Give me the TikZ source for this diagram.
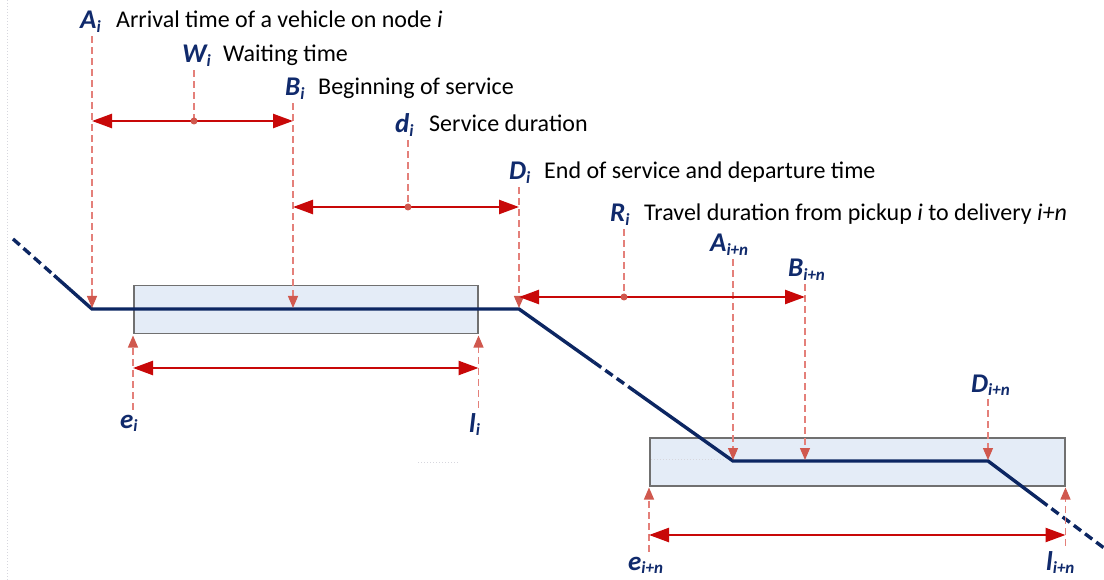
\documentclass[tikz,border=0pt]{standalone}
\usepackage{fontspec}
\setmainfont{Carlito}
\usetikzlibrary{arrows.meta,calc}
\definecolor{navy}{RGB}{12,38,98}
\definecolor{labc}{RGB}{16,42,108}
\definecolor{arrc}{RGB}{200,8,8}
\definecolor{dshc}{RGB}{228,128,122}
\definecolor{dshtip}{RGB}{208,88,78}
\definecolor{boxfill}{RGB}{228,236,247}
\definecolor{boxline}{RGB}{112,112,112}
\definecolor{faint}{RGB}{215,215,222}
\newcommand{\lbl}[2]{{\color{labc}\fontsize{27}{27}\selectfont\bfseries\itshape #1\raisebox{-0.3ex}{\fontsize{17}{17}\selectfont #2}}}
\begin{document}
\begin{tikzpicture}[x=1pt,y=-1pt,
  labnode/.style={anchor=base west, inner sep=0pt},
  txtnode/.style={anchor=base west, inner sep=0pt, font=\fontsize{24}{24}\selectfont},
  guide/.style={draw=dshc, dash pattern=on 7pt off 4pt, line width=1.2pt},
  guidetip/.style={guide, -{Triangle[length=12pt,width=10pt,color=dshtip,fill=dshtip]}, shorten >=1pt},
  span/.style={draw=arrc, line width=2.4pt, {Triangle[length=20pt,width=14pt]}-{Triangle[length=20pt,width=14pt]}},
  middot/.style={circle, fill=dshtip, inner sep=0pt, minimum size=7pt},
  route/.style={draw=navy, line width=3.4pt},
  routedash/.style={route, dash pattern=on 9pt off 5pt},
  window/.style={draw=boxline, fill=boxfill, line width=1.5pt, inner sep=0pt, anchor=north west},
  faintline/.style={draw=faint, line width=0.8pt, dash pattern=on 1pt off 2pt}
]
\useasboundingbox[fill=white] (0,0) rectangle (1104,580);

% faint artifacts
\coordinate (fa1) at (7,0);
\coordinate (fa2) at (7,580);
\draw[faintline] (fa1) -- (fa2);
\coordinate (fb1) at (418,462);
\coordinate (fb2) at (459,462);
\draw[faintline] (fb1) -- (fb2);

% time windows
\node[window, minimum width=344pt, minimum height=48pt] (w1) at (133,285) {};
\node[window, minimum width=415pt, minimum height=48pt] (w2) at (649,437) {};
\coordinate (fc1) at (651,459);
\coordinate (fc2) at (726,459);
\draw[faintline] (fc1) -- (fc2);

% route
\coordinate (r0) at (13,239);
\coordinate (r2) at (92,309);
\coordinate (r3) at (519,309);
\coordinate (r4) at (733,461);
\coordinate (r5) at (988,461);
\coordinate (r6) at (1104,548);
\coordinate (r1) at ($(r0)!0.52!(r2)$);
\coordinate (m1) at ($(r3)!0.35!(r4)$);
\coordinate (m2) at ($(r3)!0.54!(r4)$);
\coordinate (m3) at ($(r5)!0.45!(r6)$);
\draw[routedash] (r0) -- (r1);
\draw[route, line join=miter] (r1) -- (r2) -- (r3) -- (m1);
\draw[routedash] (m1) -- (m2);
\draw[route, line join=miter] (m2) -- (r4) -- (r5) -- (m3);
\draw[routedash] (m3) -- (r6);

% top labels
\node[labnode] (lA) at (80,29) {\lbl{A}{i}};
\node[txtnode] (tA) at (116,28) {Arrival time of a vehicle on node \textit{i}};
\node[labnode] (lW) at (182,63) {\lbl{W}{i}};
\node[txtnode] (tW) at (223,62) {Waiting time};
\node[labnode] (lB) at (285,96) {\lbl{B}{i}};
\node[txtnode] (tB) at (318,95) {Beginning of service};
\node[labnode] (ld) at (395,133) {\lbl{d}{i}};
\node[txtnode] (td) at (429,132) {Service duration};
\node[labnode] (lD) at (509,180) {\lbl{D}{i}};
\node[txtnode] (tD) at (544,179) {End of service and departure time};
\node[labnode] (lR) at (610,222) {\lbl{R}{i}};
\node[txtnode] (tR) at (644,221) {Travel duration from pickup \textit{i} to delivery \textit{i+n}};
\node[labnode] (lA2) at (710,252) {\lbl{A}{i+n}};
\node[labnode] (lB2) at (788,277) {\lbl{B}{i+n}};
\node[labnode] (lD2) at (971,392) {\lbl{D}{i+n}};

% bottom labels
\node[labnode] (le1) at (120,428) {\lbl{e}{i}};
\node[labnode] (ll1) at (469,432) {\lbl{l}{i}};
\node[labnode] (le2) at (628,570) {\lbl{e}{i+n}};
\node[labnode] (ll2) at (1046,570) {\lbl{l}{i+n}};

% guide points
\coordinate (gA) at (92,309);
\coordinate (gW) at (194,121);
\coordinate (gB) at (293,309);
\coordinate (gd) at (408,207);
\coordinate (gD) at (519,309);
\coordinate (gR) at (624,297);
\coordinate (gA2) at (733,461);
\coordinate (gB2) at (805,461);
\coordinate (gD2) at (988,461);

\draw[guidetip] ([yshift=-3pt]lA.south -| gA) -- (gA);
\draw[guide] ([yshift=-3pt]lW.south -| gW) -- (gW);
\draw[guidetip] ([yshift=-3pt]lB.south -| gB) -- (gB);
\draw[guide] ([yshift=-3pt]ld.south -| gd) -- (gd);
\draw[guidetip] ([yshift=-3pt]lD.south -| gD) -- (gD);
\draw[guide] ([yshift=-3pt]lR.south -| gR) -- (gR);
\draw[guidetip] ([yshift=-3pt]lA2.south -| gA2) -- (gA2);
\draw[guidetip] ([yshift=-3pt]lB2.south -| gB2) -- (gB2);
\draw[guidetip] ([yshift=-3pt]lD2.south -| gD2) -- (gD2);

\draw[guidetip] ([yshift=5pt]le1.north -| w1.south west) -- (w1.south west);
\draw[guidetip] ([yshift=5pt]ll1.north -| w1.south east) -- (w1.south east);
\draw[guidetip] ([yshift=5pt]le2.north -| w2.south west) -- (w2.south west);
\draw[guidetip] ([yshift=5pt]ll2.north -| w2.south east) -- (w2.south east);

% span arrows
\draw[span] (gA |- gW) -- (gB |- gW);
\draw[span] (gB |- gd) -- (gD |- gd);
\draw[span] (gD |- gR) -- (gB2 |- gR);
\coordinate (s1) at (0,368);
\coordinate (s2) at (0,535);
\draw[span] (w1.south west |- s1) -- (w1.south east |- s1);
\draw[span] (w2.south west |- s2) -- (w2.south east |- s2);

% mid dots
\node[middot] (dW) at (gW) {};
\node[middot] (dd) at (gd) {};
\node[middot] (dR) at (gR) {};
\end{tikzpicture}
\end{document}
